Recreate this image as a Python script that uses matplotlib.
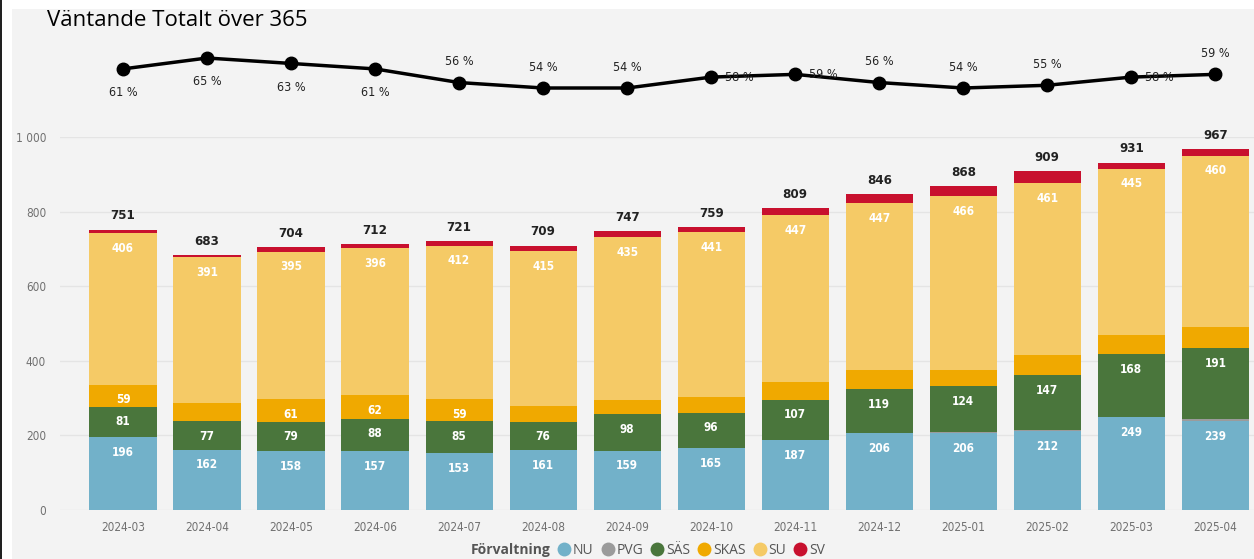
import matplotlib
matplotlib.use("Agg")
import matplotlib.pyplot as plt
from matplotlib.patches import Rectangle
from matplotlib.lines import Line2D
import numpy as np

months = ["2024-03", "2024-04", "2024-05", "2024-06", "2024-07", "2024-08", "2024-09",
          "2024-10", "2024-11", "2024-12", "2025-01", "2025-02", "2025-03", "2025-04"]
nu   = [196, 162, 158, 157, 153, 161, 159, 165, 187, 206, 206, 212, 249, 239]
pvg  = [0, 0, 0, 0, 0, 0, 0, 0, 2, 0, 2, 3, 1, 4]
sas  = [81, 77, 79, 88, 85, 76, 98, 96, 107, 119, 124, 147, 168, 191]
skas = [59, 48, 61, 62, 59, 42, 39, 42, 48, 51, 44, 54, 52, 56]
su   = [406, 391, 395, 396, 412, 415, 435, 441, 447, 447, 466, 461, 445, 460]
sv   = [9, 5, 11, 9, 12, 15, 16, 15, 18, 23, 26, 32, 16, 17]
totals = [751, 683, 704, 712, 721, 709, 747, 759, 809, 846, 868, 909, 931, 967]
pct = [61, 65, 63, 61, 56, 54, 54, 58, 59, 56, 54, 55, 58, 59]
pct_pos = ["below", "below", "below", "below", "above", "above", "above", "right",
           "right", "above", "above", "above", "right", "above"]

series_names = ["NU", "PVG", "SÄS", "SKAS", "SU", "SV"]
series_vals = [nu, pvg, sas, skas, su, sv]
colors = ["#72b1c9", "#9b9b9b", "#4a763c", "#f0a900", "#f5ca66", "#c8102e"]
label_series = {"NU", "SÄS", "SKAS", "SU"}

W, H = 1254, 559
fig = plt.figure(figsize=(W / 100, H / 100), dpi=100)
fig.patch.set_facecolor("white")
fig.patches.append(Rectangle((12 / W, 0), 1, (H - 9) / H, transform=fig.transFigure,
                             facecolor="#f3f3f3", edgecolor="none", zorder=-10))
fig.patches.append(Rectangle((0, 0), 2 / W, 1, transform=fig.transFigure,
                             facecolor="#222222", edgecolor="none", zorder=-9))

num_font = ["DejaVu Sans"]
ui_font = ["Open Sans", "DejaVu Sans"]
cond = "condensed"

# Bar axes
ax = fig.add_axes([60 / W, (H - 510) / H, (W - 60) / W, 373 / H])
ax.set_facecolor("none")
x = np.arange(len(months))
xl = (-0.75, 13.46)
bottom = np.zeros(len(months))
for name, vals, col in zip(series_names, series_vals, colors):
    vals = np.array(vals, dtype=float)
    ax.bar(x, vals, bottom=bottom, width=0.8, color=col, edgecolor="none", zorder=3)
    if name in label_series:
        for i, v in enumerate(vals):
            if v >= 57:
                ax.annotate(f"{int(v)}", (x[i], bottom[i] + v), xytext=(0, -11),
                            textcoords="offset points", ha="center", va="center",
                            color="white", fontsize=8.5, fontweight="bold",
                            family=num_font, fontstretch=cond, zorder=5)
    bottom += vals

for i, t in enumerate(totals):
    ax.annotate(f"{t}", (x[i], bottom[i]), xytext=(0, 10), textcoords="offset points",
                ha="center", va="center", color="#222222", fontsize=9.5,
                fontweight="bold", family=num_font, fontstretch=cond,
                annotation_clip=False, zorder=5)

ax.set_xlim(*xl)
ax.set_ylim(0, 1000)
ax.set_yticks([0, 200, 400, 600, 800, 1000])
ax.set_yticklabels(["0", "200", "400", "600", "800", "1 000"])
ax.set_xticks(x)
ax.set_xticklabels(months)
ax.tick_params(axis="both", length=0, colors="#707070", labelsize=8.5)
ax.tick_params(axis="x", pad=8)
ax.tick_params(axis="y", pad=10)
for lab in ax.get_xticklabels() + ax.get_yticklabels():
    lab.set_family(num_font)
    lab.set_fontstretch(cond)
ax.grid(axis="y", color="#e4e4e4", linewidth=1, zorder=0)
for s in ax.spines.values():
    s.set_visible(False)

# Line axes
lax = fig.add_axes([60 / W, (H - 130) / H, (W - 60) / W, 100 / H])
lax.set_facecolor("none")
lax.plot(x, pct, color="black", linewidth=2.5, marker="o", markersize=9, zorder=3)
lax.set_xlim(*xl)
lax.set_ylim(38.6, 75.27)
lax.axis("off")
offs = {"below": (0, -17), "above": (0, 15), "right": (20, 0)}
for i, (p, pos) in enumerate(zip(pct, pct_pos)):
    dx, dy = offs[pos]
    lax.annotate(f"{p} %", (x[i], p), xytext=(dx, dy), textcoords="offset points",
                 ha="center", va="center", fontsize=9, color="#222222", family=num_font,
                 fontstretch=cond, annotation_clip=False, zorder=4)

fig.text(47 / W, (H - 21) / H, "Väntande Totalt över 365", fontsize=16, family=ui_font,
         ha="left", va="center", color="black")

# Legend
fig.text(550 / W, (H - 550) / H, "Förvaltning", fontsize=10, fontweight="bold",
         family=ui_font, color="#555555", ha="right", va="center")
handles = [Line2D([], [], linestyle="none", marker="o", markersize=10, color=c,
                  markeredgecolor="none") for c in colors]
leg = fig.legend(handles, series_names, loc="center left",
                 bbox_to_anchor=(555 / W, (H - 550) / H), ncol=6, frameon=False,
                 handletextpad=0.0, columnspacing=0.35, handlelength=1.3,
                 prop={"family": ui_font, "size": 10}, borderpad=0, borderaxespad=0)
for t in leg.get_texts():
    t.set_color("#555555")

fig.savefig("out.png", dpi=100, facecolor=fig.get_facecolor())
